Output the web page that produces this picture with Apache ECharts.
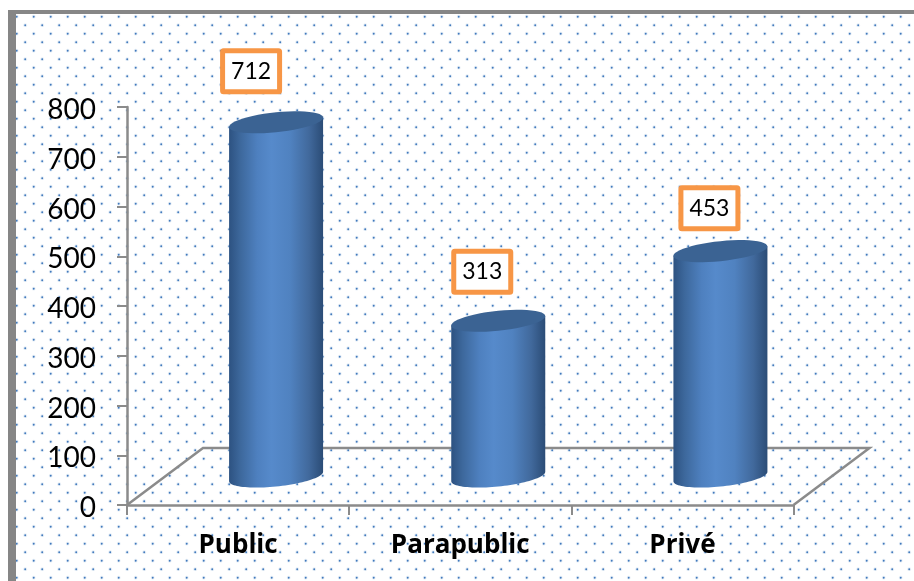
<!DOCTYPE html>
<html>
<head>
<meta charset="utf-8">
<title>Public / Parapublic / Privé</title>
<style>
  html, body { margin: 0; padding: 0; background: #fff; }
  #main { width: 914px; height: 581px; }
</style>
<script src="https://cdn.jsdelivr.net/npm/echarts@6/dist/echarts.min.js"></script>
</head>
<body>
<div id="main"></div>
<script>
const categories = ['Public', 'Parapublic', 'Privé'];
const values = [712, 313, 453];
const axisMin = 0;
const axisMax = 800;
const axisStep = 100;

// habillage du graphique, pas des donnees
const labelFont = 'Lato, "Open Sans", sans-serif';
const gray = '#8b8b8b';
const depth = { x: 76, y: 57 };
const cylHalfWidth = 47;
const cylTilt = 0.1;
const cylRy = 10;
const boxNudge = [[-25, -51], [-16, -49], [-11, -43]];

// petit motif a points du fond
function dotTile() {
    const c = document.createElement('canvas');
    c.width = 17;
    c.height = 17;
    const ctx = c.getContext('2d');
    const spots = [[-0.3, -0.3], [16.7, -0.3], [-0.3, 16.7], [16.7, 16.7], [8.2, 8.2]];
    spots.forEach(p => {
        ctx.fillStyle = 'rgba(74,126,187,0.14)';
        ctx.beginPath();
        ctx.arc(p[0], p[1], 1.9, 0, Math.PI * 2);
        ctx.fill();
        ctx.fillStyle = '#4079bd';
        ctx.beginPath();
        ctx.arc(p[0], p[1], 0.95, 0, Math.PI * 2);
        ctx.fill();
    });
    return c;
}

// points d'une ellipse inclinee entre deux angles
function arcPoints(cx, cy, from, to) {
    const pts = [];
    const n = 48;
    for (let i = 0; i <= n; i++) {
        const t = from + (to - from) * i / n;
        const dx = cylHalfWidth * Math.cos(t);
        pts.push([cx + dx, cy + cylRy * Math.sin(t) - dx * cylTilt]);
    }
    return pts;
}

function renderCylinder(params, api) {
    const base = api.coord([api.value(0), 0]);
    const top = api.coord([api.value(0), api.value(1)]);
    const cx = base[0] + depth.x / 2;
    const baseY = base[1] - depth.y / 2;
    const topY = top[1] - depth.y / 2;

    const bodyFill = new echarts.graphic.LinearGradient(0, 0, 1, 0, [
        { offset: 0, color: '#2d5281' },
        { offset: 0.12, color: '#3d689c' },
        { offset: 0.3, color: '#4e80bf' },
        { offset: 0.45, color: '#568acb' },
        { offset: 0.65, color: '#5082c0' },
        { offset: 0.85, color: '#41699c' },
        { offset: 1, color: '#2b4c76' }
    ]);
    const bodyPts = [[cx - cylHalfWidth, topY + cylHalfWidth * cylTilt]]
        .concat(arcPoints(cx, baseY, Math.PI, 0))
        .concat([[cx + cylHalfWidth, topY - cylHalfWidth * cylTilt]]);

    const nudge = boxNudge[params.dataIndex];
    const boxX = cx + nudge[0];
    const boxY = topY + nudge[1];

    return {
        type: 'group',
        children: [
            { type: 'polygon', shape: { points: bodyPts }, style: { fill: bodyFill } },
            {
                type: 'polygon',
                shape: { points: arcPoints(cx, topY, 0, Math.PI * 2) },
                style: { fill: '#3b6393' }
            },
            {
                type: 'rect',
                shape: { x: boxX - 28.5, y: boxY - 20.5, width: 57, height: 41, r: 1 },
                style: { fill: '#fff', stroke: '#f79646', lineWidth: 5 }
            },
            {
                type: 'text',
                x: boxX,
                y: boxY,
                style: {
                    text: String(api.value(1)),
                    fill: '#000',
                    font: '23px ' + labelFont,
                    align: 'center',
                    verticalAlign: 'middle'
                }
            }
        ]
    };
}

// plancher en perspective
function renderFloor(params) {
    const g = params.coordSys;
    const x0 = g.x;
    const x1 = g.x + g.width;
    const y0 = g.y + g.height;
    return {
        type: 'polyline',
        shape: {
            points: [
                [x0, y0],
                [x0 + depth.x, y0 - depth.y],
                [x1 + depth.x, y0 - depth.y],
                [x1, y0]
            ]
        },
        style: { fill: 'none', stroke: gray, lineWidth: 2.5 }
    };
}

const chart = echarts.init(document.getElementById('main'), null, { renderer: 'canvas' });

chart.setOption({
    animation: false,
    backgroundColor: '#fff',
    graphic: [
        {
            type: 'rect',
            z: -10,
            shape: { x: 16, y: 14, width: 898, height: 567 },
            style: { fill: { image: dotTile(), repeat: 'repeat' } }
        },
        { type: 'rect', z: -9, shape: { x: 8, y: 10, width: 906, height: 4 }, style: { fill: '#868686' } },
        { type: 'rect', z: -9, shape: { x: 8, y: 10, width: 8, height: 571 }, style: { fill: '#868686' } }
    ],
    grid: { left: 127, right: 120.5, top: 107, bottom: 76, containLabel: false },
    xAxis: {
        type: 'category',
        data: categories,
        axisLine: { lineStyle: { color: gray, width: 2.5 } },
        axisTick: { show: true, length: 10, lineStyle: { color: gray, width: 2 } },
        axisLabel: {
            color: '#000',
            fontFamily: '"Open Sans", sans-serif',
            fontWeight: 'bold',
            fontSize: 26,
            margin: 28
        }
    },
    yAxis: {
        type: 'value',
        min: axisMin,
        max: axisMax,
        interval: axisStep,
        axisLine: { show: true, lineStyle: { color: gray, width: 2.5 } },
        axisTick: { show: true, length: 10, lineStyle: { color: gray, width: 2 } },
        splitLine: { show: false },
        axisLabel: {
            margin: 31,
            formatter: '{a|{value}}',
            rich: {
                a: {
                    color: '#000',
                    fontFamily: labelFont,
                    fontSize: 28,
                    padding: [6, 0, 0, 0]
                }
            }
        }
    },
    series: [
        {
            name: 'plancher',
            type: 'custom',
            coordinateSystem: 'cartesian2d',
            renderItem: renderFloor,
            data: [[0, 0]],
            clip: false,
            silent: true,
            z: 1
        },
        {
            name: 'valeurs',
            type: 'custom',
            coordinateSystem: 'cartesian2d',
            renderItem: renderCylinder,
            data: categories.map((c, i) => [i, values[i]]),
            encode: { x: 0, y: 1 },
            clip: false,
            z: 3
        }
    ]
});

window.addEventListener('resize', () => chart.resize());
</script>
</body>
</html>
